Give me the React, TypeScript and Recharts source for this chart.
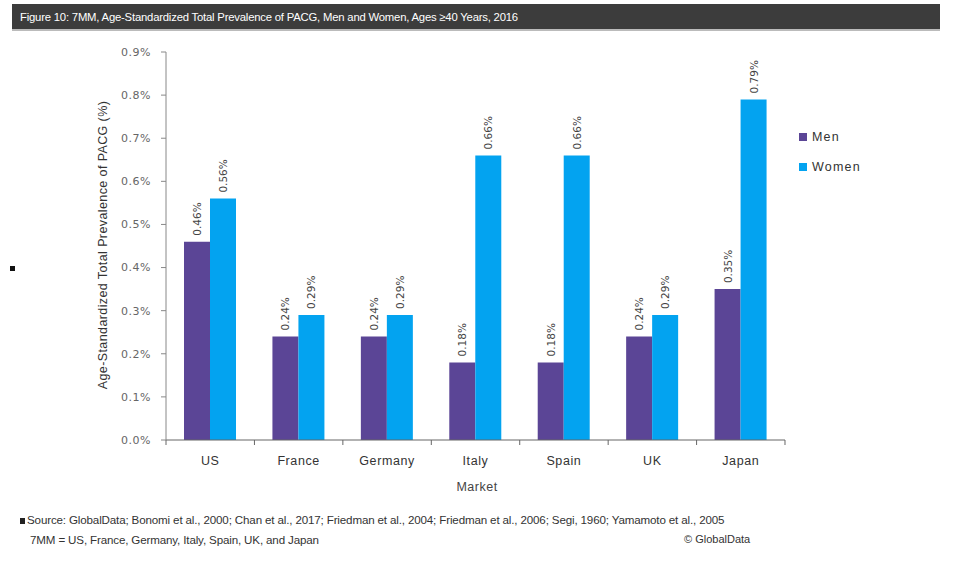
import React from "react";
import { BarChart, Bar, XAxis, YAxis, Legend, LabelList } from "recharts";

const markets = ["US", "France", "Germany", "Italy", "Spain", "UK", "Japan"];
const men = [0.46, 0.24, 0.24, 0.18, 0.18, 0.24, 0.35];
const women = [0.56, 0.29, 0.29, 0.66, 0.66, 0.29, 0.79];
const yTicks = [0, 0.1, 0.2, 0.3, 0.4, 0.5, 0.6, 0.7, 0.8, 0.9];

const data = markets.map((m, i) => ({ market: m, Men: men[i], Women: women[i] }));

const MEN_COLOR = "#5b4596";
const WOMEN_COLOR = "#03a3f0";
const FONT = "'DejaVu Sans', Verdana, sans-serif";
const FONT2 = "'Liberation Sans', Arial, sans-serif";

const BarLabel = (props: any) => {
  const { x, y, width, value } = props;
  const cx = x + width / 2 + 4;
  const cy = y - 6;
  return (
    <text
      x={cx}
      y={cy}
      transform={`rotate(-90, ${cx}, ${cy})`}
      textAnchor="start"
      fontSize={10.5}
      fontFamily={FONT}
      fill="#444"
    >
      {`${value.toFixed(2)}%`}
    </text>
  );
};

const XTick = (props: any) => {
  const { x, y, payload, index, visibleTicksCount } = props;
  const half = 88.4 / 2;
  return (
    <g>
      <line x1={x - half} y1={y - 8} x2={x - half} y2={y - 3} stroke="#666" />
      {index === visibleTicksCount - 1 && (
        <line x1={x + half} y1={y - 8} x2={x + half} y2={y - 3} stroke="#666" />
      )}
      <text x={x} y={y + 17} textAnchor="middle" fontSize={12.5} fontFamily={FONT2} fill="#333" letterSpacing={0.6}>
        {payload.value}
      </text>
    </g>
  );
};

const LegendContent = (props: any) => {
  const { payload } = props;
  return (
    <div style={{ position: "absolute", left: 0, top: 0, width: 120 }}>
      {payload.map((p: any) => (
        <div key={p.value} style={{ display: "flex", alignItems: "center", height: 30 }}>
          <div style={{ width: 8, height: 8, background: p.color, marginRight: 5 }} />
          <span style={{ fontFamily: FONT2, fontSize: 12.5, color: "#333", letterSpacing: 1.2 }}>{p.value}</span>
        </div>
      ))}
    </div>
  );
};

export default function App() {
  return (
    <div style={{ position: "absolute", left: 0, top: 0, width: 979, height: 563, background: "#fff", overflow: "hidden" }}>
      <div
        style={{
          position: "absolute",
          left: 12,
          top: 4,
          width: 928,
          height: 27,
          background: "#3c3c3c",
          borderBottom: "2px solid #bbb",
          color: "#fff",
          fontFamily: FONT2,
          fontSize: 11.3,
          lineHeight: "27px",
          paddingLeft: 8,
          boxSizing: "border-box",
          letterSpacing: -0.2,
        }}
      >
        Figure 10: 7MM, Age-Standardized Total Prevalence of PACG, Men and Women, Ages ≥40 Years, 2016
      </div>
      <BarChart
        width={979}
        height={563}
        data={data}
        margin={{ top: 52, right: 194, bottom: 93, left: 106 }}
        barGap={0}
        barSize={26}
      >
        <XAxis
          dataKey="market"
          axisLine={{ stroke: "#666" }}
          tickLine={false}
          tick={<XTick />}
          interval={0}
          height={30}
        />
        <YAxis
          domain={[0, 0.9]}
          ticks={yTicks}
          width={60}
          axisLine={{ stroke: "#888" }}
          tickLine={{ stroke: "#888" }}
          tickSize={5}
          tickMargin={10}
          tickFormatter={(v: number) => `${v.toFixed(1)}%`}
          tick={{ fontSize: 11, fontFamily: FONT, fill: "#666", letterSpacing: 0.5 }}
        />
        <Legend
          layout="vertical"
          verticalAlign="top"
          align="right"
          content={<LegendContent />}
          wrapperStyle={{ left: 799, top: 122, width: 0, height: 0, overflow: "visible" }}
        />
        <Bar dataKey="Men" fill={MEN_COLOR} isAnimationActive={false}>
          <LabelList dataKey="Men" content={<BarLabel />} />
        </Bar>
        <Bar dataKey="Women" fill={WOMEN_COLOR} isAnimationActive={false}>
          <LabelList dataKey="Women" content={<BarLabel />} />
        </Bar>
      </BarChart>
      <div
        style={{
          position: "absolute",
          left: 103,
          top: 245,
          transform: "translate(-50%, -50%) rotate(-90deg)",
          whiteSpace: "nowrap",
          fontFamily: FONT2,
          fontSize: 12.5,
          color: "#333",
          letterSpacing: 0.4,
        }}
      >
        Age-Standardized Total Prevalence of PACG (%)
      </div>
      <div
        style={{
          position: "absolute",
          left: 477,
          top: 487,
          transform: "translate(-50%, -50%)",
          fontFamily: FONT2,
          fontSize: 12.5,
          color: "#444",
          letterSpacing: 0.5,
        }}
      >
        Market
      </div>
      <div style={{ position: "absolute", left: 10, top: 266, width: 5, height: 5, background: "#111" }} />
      <div
        style={{
          position: "absolute",
          left: 20,
          top: 513,
          fontFamily: FONT2,
          fontSize: 11.6,
          color: "#333",
          whiteSpace: "nowrap",
          letterSpacing: -0.15,
        }}
      >
        <span style={{ display: "inline-block", width: 5, height: 6, background: "#222", marginRight: 2 }} />
        Source: GlobalData; Bonomi et al., 2000; Chan et al., 2017; Friedman et al., 2004; Friedman et al., 2006; Segi, 1960; Yamamoto et al., 2005
      </div>
      <div
        style={{
          position: "absolute",
          left: 30,
          top: 533,
          fontFamily: FONT2,
          fontSize: 11.6,
          color: "#333",
          whiteSpace: "nowrap",
          letterSpacing: -0.15,
        }}
      >
        7MM = US, France, Germany, Italy, Spain, UK, and Japan
      </div>
      <div
        style={{
          position: "absolute",
          left: 684,
          top: 533,
          fontFamily: FONT2,
          fontSize: 11,
          color: "#333",
          whiteSpace: "nowrap",
        }}
      >
        © GlobalData
      </div>
    </div>
  );
}
